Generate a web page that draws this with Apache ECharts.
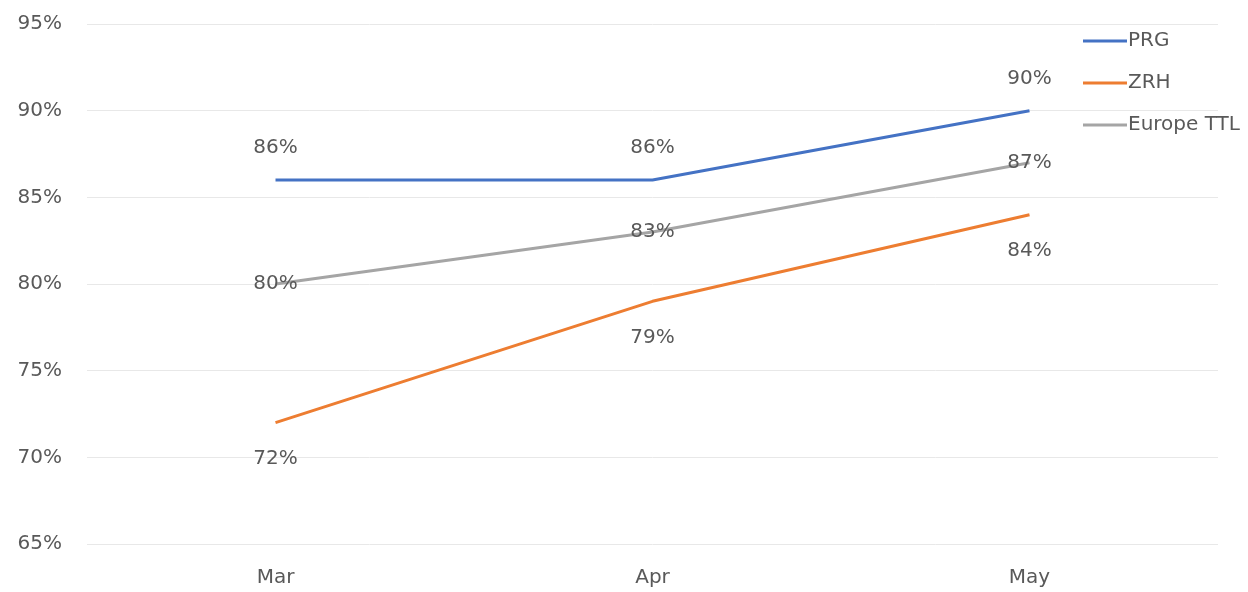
<!DOCTYPE html>
<html>
<head>
<meta charset="utf-8">
<script src="https://cdn.jsdelivr.net/npm/echarts@6/dist/echarts.min.js"></script>
<style>
  html, body { margin: 0; padding: 0; background: #fff; }
  #chart { width: 1248px; height: 592px; }
</style>
</head>
<body>
<div id="chart"></div>
<script>
var categories = ["Mar", "Apr", "May"];
var prg = [86, 86, 90];
var zrh = [72, 79, 84];
var europeTtl = [80, 83, 87];
var seriesNames = ["PRG", "ZRH", "Europe TTL"];

var textColor = "#595959";
var fontFam = "'DejaVu Sans', sans-serif";

function pct(p) { return p.value + "%"; }

var myChart = echarts.init(document.getElementById("chart"));
var option = {
    animation: false,
    textStyle: { fontFamily: fontFam },
    grid: { left: 87, right: 30, top: 24, bottom: 48 },
    legend: {
        orient: "vertical",
        left: 1078,
        top: 26,
        itemWidth: 44,
        itemHeight: 14,
        itemGap: 22,
        icon: "path://M0,6 L44,6 L44,9 L0,9 Z",
        textStyle: { color: textColor, fontSize: 20, padding: [0, 0, 0, -4] },
        data: seriesNames
    },
    xAxis: {
        type: "category",
        data: categories,
        boundaryGap: true,
        axisLine: { show: false },
        axisTick: { show: false },
        axisLabel: { color: textColor, fontSize: 20, margin: 24 }
    },
    yAxis: {
        type: "value",
        min: 65,
        max: 95,
        interval: 5,
        axisLine: { show: false },
        axisTick: { show: false },
        axisLabel: { color: textColor, fontSize: 20, margin: 25, formatter: "{value}%" },
        splitLine: { lineStyle: { color: "#e8e8e8", width: 1 } }
    },
    series: [
        {
            name: "PRG", type: "line", data: prg,
            symbol: "circle", symbolSize: 0, showSymbol: true,
            lineStyle: { color: "#4472C4", width: 3 },
            itemStyle: { color: "#4472C4" },
            label: { show: true, position: "top", distance: 22, color: textColor, fontSize: 20, formatter: pct }
        },
        {
            name: "ZRH", type: "line", data: zrh,
            symbol: "circle", symbolSize: 0, showSymbol: true,
            lineStyle: { color: "#ED7D31", width: 3 },
            itemStyle: { color: "#ED7D31" },
            label: { show: true, position: "bottom", distance: 26, color: textColor, fontSize: 20, formatter: pct }
        },
        {
            name: "Europe TTL", type: "line", data: europeTtl,
            symbol: "circle", symbolSize: 0, showSymbol: true,
            lineStyle: { color: "#A5A5A5", width: 3 },
            itemStyle: { color: "#A5A5A5" },
            label: { show: true, position: "inside", color: textColor, fontSize: 20, formatter: pct }
        }
    ]
};
myChart.setOption(option);
</script>
</body>
</html>
